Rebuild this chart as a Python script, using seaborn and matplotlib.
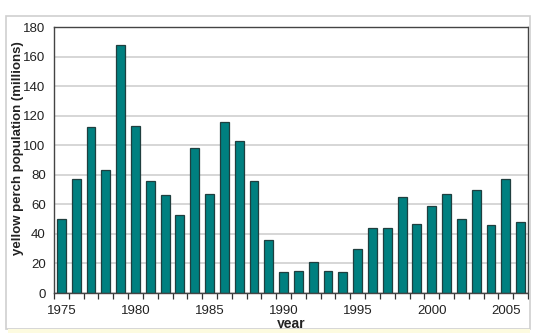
import matplotlib
matplotlib.use("Agg")
import matplotlib.pyplot as plt
from matplotlib.patches import Rectangle
import seaborn as sns
import pandas as pd

years = list(range(1975, 2007))
population = [50, 77, 112, 83, 168, 113, 76, 66, 53, 98, 67, 116, 103, 76, 36,
              14, 15, 21, 15, 14, 30, 44, 44, 65, 47, 59, 67, 50, 70, 46, 77, 48]
tick_years = [1975, 1980, 1985, 1990, 1995, 2000, 2005]

df = pd.DataFrame({"year": years, "pop": population})

sns.set_theme(style="white")
plt.rcParams['font.family'] = ['Liberation Sans', 'DejaVu Sans']

W, H = 556, 333
fig = plt.figure(figsize=(W / 100, H / 100), dpi=100)
fig.patch.set_facecolor("white")

# outer frame and bottom strip
fig.patches.append(Rectangle((6 / W, 1 - 329 / H), 524 / W, 313 / H, transform=fig.transFigure,
                             fill=False, edgecolor="#cfcfcf", linewidth=1.2))
fig.patches.append(Rectangle((8 / W, 0), 522 / W, 4 / H, transform=fig.transFigure,
                             facecolor="#fdfbe0", edgecolor="none"))

ax = fig.add_axes([54 / W, 1 - 293 / H, 474 / W, 266 / H])
sns.barplot(data=df, x="year", y="pop", color="#008080", width=0.6,
            edgecolor="#1f3f3f", linewidth=0.9, saturation=1, ax=ax)

ax.set_ylim(0, 180)
ax.set_xlim(-0.5, len(years) - 0.5)
ax.set_yticks(range(0, 181, 20))
ax.yaxis.grid(True, color="#d0d0d0", linewidth=1.2)
ax.set_axisbelow(True)

ax.set_xticks([years.index(y) for y in tick_years])
ax.set_xticklabels([str(y) for y in tick_years], fontsize=9.5, color="#222222")
ax.set_xticks([i - 0.5 for i in range(len(years) + 1)], minor=True)
ax.tick_params(axis="x", which="major", length=0, pad=9)
ax.tick_params(axis="x", which="minor", length=4, width=0.9, color="#333333", direction="out")
ax.tick_params(axis="y", length=4, width=0.9, color="#333333", direction="out",
               labelsize=9.5, labelcolor="#222222", pad=2)
ax.xaxis.set_tick_params(which="minor", bottom=True)

for s in ax.spines.values():
    s.set_visible(True)
    s.set_color("#444444")
    s.set_linewidth(1.0)

ax.set_xlabel("year", fontsize=10, fontweight="bold", color="#222222", va="center")
ax.xaxis.set_label_coords(0.5, -(324 - 293) / 266)
ax.set_ylabel("yellow perch population (millions)", fontsize=9.5, fontweight="bold",
              color="#222222", va="center")
ax.yaxis.set_label_coords((18 - 54) / 474, (293 - 148) / 266)

fig.savefig("out.png", dpi=100)
